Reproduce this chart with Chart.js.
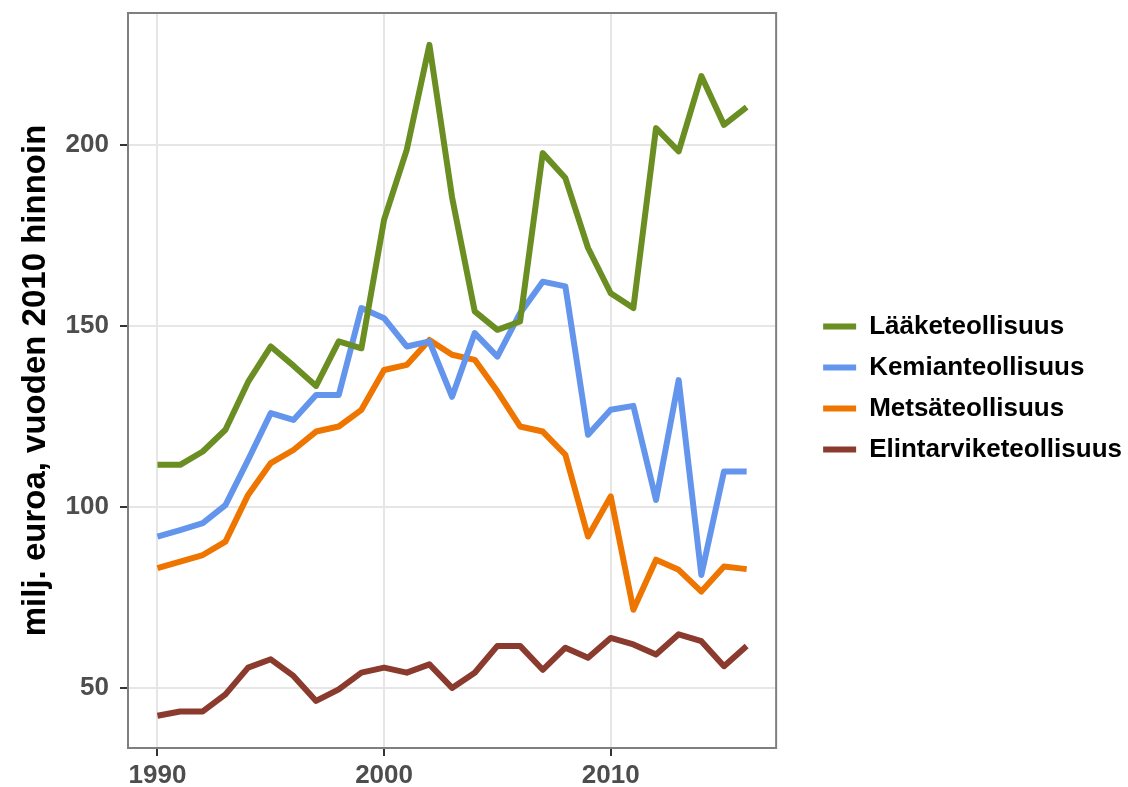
<!DOCTYPE html>
<html>
<head>
<meta charset="utf-8">
<script src="https://cdn.jsdelivr.net/npm/chart.js@4.4.1/dist/chart.umd.min.js"></script>
<style>
  html, body { margin: 0; padding: 0; background: #fff; }
  #wrap { width: 1128px; height: 787px; }
</style>
</head>
<body>
<div id="wrap"><canvas id="chart" width="1128" height="787"></canvas></div>
<script>
// data
var years = [1990, 1991, 1992, 1993, 1994, 1995, 1996, 1997, 1998, 1999,
             2000, 2001, 2002, 2003, 2004, 2005, 2006, 2007, 2008, 2009,
             2010, 2011, 2012, 2013, 2014, 2015, 2016];

var laake = [111.6, 111.6, 115.3, 121.3, 134.5, 144.3, 139.0, 133.4, 145.7, 143.8,
             179.3, 198.6, 227.6, 185.5, 154.0, 148.9, 151.2, 197.7, 190.8, 171.5,
             159.0, 154.9, 204.6, 198.2, 219.0, 205.5, 210.4];

var kemia = [91.8, 93.6, 95.5, 100.5, 113.0, 125.9, 124.0, 130.9, 130.9, 154.9,
             152.1, 144.3, 145.7, 130.4, 148.0, 141.5, 153.5, 162.2, 160.9, 119.9,
             126.8, 127.9, 101.9, 135.0, 81.2, 109.8, 109.8];

var metsa = [83.1, 84.9, 86.7, 90.4, 103.3, 112.1, 115.7, 120.8, 122.2, 126.8,
             137.8, 139.2, 146.1, 142.0, 140.6, 131.9, 122.2, 120.8, 114.4, 91.8,
             102.9, 71.6, 85.4, 82.6, 76.6, 83.5, 82.8];

var elintarvike = [42.3, 43.5, 43.5, 48.2, 55.6, 57.9, 53.3, 46.4, 49.6, 54.2,
                   55.6, 54.2, 56.5, 50.0, 54.2, 61.6, 61.6, 55.0, 61.1, 58.3,
                   63.8, 62.0, 59.2, 64.8, 62.9, 56.0, 61.6];

var seriesNames = ['Lääketeollisuus', 'Kemianteollisuus', 'Metsäteollisuus', 'Elintarviketeollisuus'];
var seriesColors = ['#6B8E23', '#6495ED', '#EE7600', '#8B3A2E'];
var xTicks = [1990, 2000, 2010];
var yTicks = [50, 100, 150, 200];

var font = '"Liberation Sans", Arial, Helvetica, sans-serif';

function pts(vals) {
    return vals.map(function (v, i) { return { x: years[i], y: v }; });
}

var datasets = [laake, kemia, metsa, elintarvike].map(function (vals, i) {
    return {
        label: seriesNames[i],
        data: pts(vals),
        borderColor: seriesColors[i],
        backgroundColor: seriesColors[i],
        borderWidth: 6,
        borderJoinStyle: 'round',
        pointRadius: 0,
        pointHoverRadius: 0,
        tension: 0,
        fill: false
    };
});

// full grey box round the plot panel
var panelBox = {
    id: 'panelBox',
    afterDatasetsDraw: function (chart) {
        var a = chart.chartArea, ctx = chart.ctx;
        ctx.save();
        ctx.strokeStyle = '#7f7f7f';
        ctx.lineWidth = 2;
        ctx.strokeRect(a.left, a.top, a.right - a.left, a.bottom - a.top);
        ctx.restore();
    }
};

// legend keys sit a bit away from the panel, like ggplot places them
var legendNudge = {
    id: 'legendNudge',
    afterLayout: function (chart) {
        var lg = chart.legend;
        var pad = lg.options.labels.padding;
        var dx = chart.chartArea.right + 47 - (lg.left + pad);
        var dy = -12;
        lg.left += dx;
        lg.right = chart.width;
        lg.width = lg.right - lg.left;
        lg.top += dy; lg.bottom += dy;
    }
};

var ctx = document.getElementById('chart').getContext('2d');
var chart = new Chart(ctx, {
    type: 'line',
    data: { datasets: datasets },
    plugins: [panelBox, legendNudge],
    options: {
        responsive: false,
        animation: false,
        layout: { padding: { top: 13, right: 28, bottom: 0, left: 0 } },
        plugins: {
            tooltip: { enabled: false },
            legend: {
                position: 'right',
                maxWidth: 600,
                labels: {
                    usePointStyle: true,
                    pointStyle: 'line',
                    pointStyleWidth: 33,
                    padding: 15,
                    color: '#000',
                    font: { family: font, size: 26, weight: 'bold', lineHeight: 1.2 }
                }
            }
        },
        scales: {
            x: {
                type: 'linear',
                min: 1988.7,
                max: 2017.3,
                afterBuildTicks: function (s) {
                    s.ticks = xTicks.map(function (v) { return { value: v }; });
                },
                afterFit: function (s) {
                    s.height = 39;
                    s.paddingLeft = 0;
                    s.paddingRight = 0;
                },
                grid: {
                    color: '#e6e6e6',
                    lineWidth: 2,
                    tickLength: 8,
                    tickColor: '#333333',
                    tickWidth: 2
                },
                border: { display: false },
                ticks: {
                    color: '#4d4d4d',
                    padding: 4,
                    maxRotation: 0,
                    font: { family: font, size: 26, weight: 'bold' },
                    callback: function (v) { return String(v); }
                }
            },
            y: {
                min: 33.4,
                max: 236.4,
                afterBuildTicks: function (s) {
                    s.ticks = yTicks.map(function (v) { return { value: v }; });
                },
                afterFit: function (s) {
                    s.width = 128;
                    s.paddingTop = 0;
                    s.paddingBottom = 0;
                },
                grid: {
                    color: '#e6e6e6',
                    lineWidth: 2,
                    tickLength: 8,
                    tickColor: '#333333',
                    tickWidth: 2
                },
                border: { display: false },
                ticks: {
                    color: '#4d4d4d',
                    padding: 11,
                    font: { family: font, size: 26, weight: 'bold' },
                    callback: function (v) { return String(v); }
                },
                title: {
                    display: true,
                    text: 'milj. euroa, vuoden 2010 hinnoin',
                    color: '#000',
                    padding: { top: 16, bottom: 0 },
                    font: { family: font, size: 33, weight: 'bold', lineHeight: 1.2 }
                }
            }
        }
    }
});
</script>
</body>
</html>
